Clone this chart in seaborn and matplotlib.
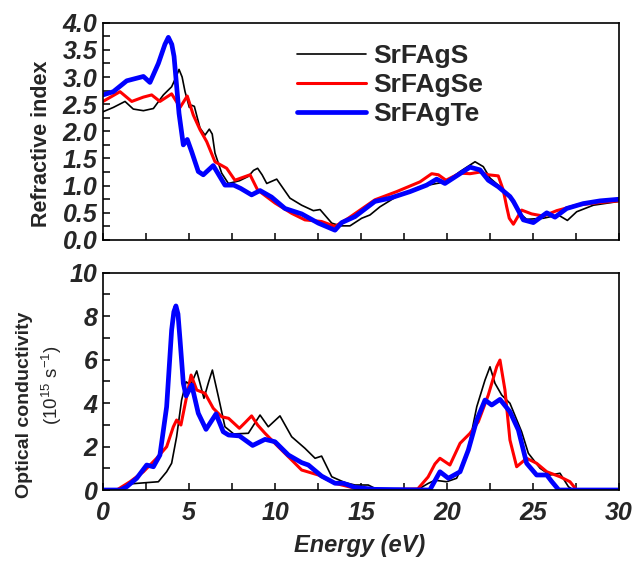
import numpy as np
import pandas as pd
import matplotlib
matplotlib.use("Agg")
import matplotlib.pyplot as plt
from matplotlib.ticker import MultipleLocator
import seaborn as sns

sns.set_theme(style="ticks")
plt.rcParams['font.family'] = ['Liberation Sans', 'DejaVu Sans']
plt.rcParams['mathtext.fontset'] = 'custom'
plt.rcParams['mathtext.rm'] = 'Liberation Sans'
plt.rcParams['mathtext.it'] = 'Liberation Sans:italic'
plt.rcParams['mathtext.bf'] = 'Liberation Sans:bold'
plt.rcParams['lines.solid_joinstyle'] = 'round'
plt.rcParams['lines.solid_capstyle'] = 'round'

labels = ["SrFAgS", "SrFAgSe", "SrFAgTe"]
colors = ["#000000", "#ff0000", "#0000ff"]
widths = [1.2, 2.2, 3.4]

# ---- Refractive index (top) ----
top_S_E = [0, 0.6, 1.28, 1.76, 2.35, 2.93, 3.51, 3.99, 4.25, 4.42, 4.6, 4.77, 5.02, 5.15, 5.31, 5.64, 5.93, 6.18, 6.35, 6.51, 6.9, 7.29, 7.93, 8.45, 8.75, 8.99, 9.25, 9.52, 10.1, 10.87, 11.55, 12.23, 12.62, 13.3, 13.8, 14.36, 15.04, 15.52, 16.1, 17.07, 18.43, 19.4, 19.94, 20.76, 21.63, 22.11, 22.5, 23.08, 23.66, 24.24, 24.63, 25.6, 26.47, 27.0, 27.54, 28.51, 30]
top_S_n = [2.36, 2.44, 2.55, 2.41, 2.38, 2.42, 2.67, 2.82, 3.0, 3.14, 3.0, 2.73, 2.44, 2.48, 2.46, 2.06, 1.93, 2.04, 1.95, 1.60, 1.23, 1.04, 1.09, 1.17, 1.28, 1.32, 1.2, 1.04, 1.12, 0.77, 0.64, 0.54, 0.56, 0.31, 0.26, 0.26, 0.40, 0.46, 0.61, 0.80, 0.98, 1.04, 1.07, 1.26, 1.44, 1.35, 1.14, 0.98, 0.77, 0.49, 0.38, 0.40, 0.46, 0.36, 0.52, 0.64, 0.71]

top_Se_E = [0, 0.99, 1.67, 2.35, 2.83, 3.31, 3.99, 4.48, 4.9, 5.25, 5.64, 6.03, 6.51, 7.19, 7.67, 8.55, 8.99, 10.0, 10.97, 11.74, 12.71, 13.49, 14.26, 15.81, 17.07, 18.43, 19.11, 19.5, 19.94, 20.76, 21.34, 21.92, 22.4, 22.98, 23.27, 23.47, 23.62, 23.86, 24.34, 24.92, 25.6, 26.38, 27.54, 28.9, 30]
top_Se_n = [2.55, 2.73, 2.55, 2.63, 2.67, 2.55, 2.69, 2.44, 2.65, 2.30, 2.03, 1.81, 1.44, 1.32, 1.10, 1.20, 0.92, 0.68, 0.49, 0.37, 0.34, 0.25, 0.40, 0.74, 0.89, 1.07, 1.22, 1.20, 1.10, 1.23, 1.22, 1.25, 1.20, 1.18, 0.92, 0.61, 0.40, 0.29, 0.55, 0.48, 0.44, 0.54, 0.64, 0.69, 0.72]

top_Te_E = [0, 0.6, 1.38, 2.35, 2.73, 3.22, 3.6, 3.8, 4.0, 4.13, 4.42, 4.67, 4.9, 5.15, 5.54, 5.83, 6.41, 7.09, 7.6, 8.0, 8.64, 9.13, 9.8, 10.58, 11.55, 12.52, 13.49, 13.88, 14.65, 15.81, 16.69, 17.85, 18.82, 19.4, 19.88, 20.56, 21.34, 21.92, 22.4, 22.98, 23.66, 23.86, 24.44, 25.02, 25.8, 26.28, 26.96, 27.92, 28.9, 30]
top_Te_n = [2.67, 2.73, 2.93, 3.01, 2.90, 3.25, 3.6, 3.73, 3.6, 3.38, 2.33, 1.75, 1.85, 1.63, 1.26, 1.20, 1.37, 1.01, 1.01, 0.95, 0.83, 0.91, 0.79, 0.58, 0.48, 0.31, 0.18, 0.32, 0.43, 0.71, 0.77, 0.89, 1.01, 1.12, 1.04, 1.18, 1.34, 1.29, 1.10, 0.98, 0.80, 0.71, 0.37, 0.32, 0.50, 0.42, 0.58, 0.67, 0.72, 0.75]

# ---- Optical conductivity (bottom) ----
bot_S_E = [0, 0.9, 1.0, 1.57, 2.54, 3.22, 3.7, 3.99, 4.28, 4.57, 4.83, 5.1, 5.45, 5.87, 6.15, 6.36, 6.71, 7.09, 7.6, 8.45, 9.13, 9.61, 10.29, 10.97, 11.74, 12.33, 12.71, 13.3, 14.07, 14.65, 15.42, 15.8, 16.5, 18.3, 18.9, 19.3, 19.98, 20.56, 21.14, 21.73, 22.21, 22.5, 22.79, 23.18, 23.66, 24.34, 24.73, 25.41, 25.99, 26.57, 27.06, 27.35, 30]
bot_S_s = [0, 0, 0.05, 0.28, 0.34, 0.38, 0.84, 1.23, 2.45, 4.14, 4.98, 4.83, 5.48, 4.22, 5.0, 5.52, 4.29, 2.91, 2.58, 2.61, 3.45, 2.91, 3.41, 2.45, 1.92, 1.46, 1.56, 0.61, 0.34, 0.23, 0.23, 0.08, 0, 0.02, 0.3, 0.45, 0.38, 0.54, 1.53, 3.83, 5.06, 5.67, 4.91, 4.37, 3.99, 2.68, 1.69, 1.0, 0.69, 0.77, 0.15, 0, 0]

bot_Se_E = [0, 0.8, 1.57, 2.35, 3.12, 3.7, 4.09, 4.28, 4.53, 4.86, 5.12, 5.45, 5.93, 6.41, 6.9, 7.3, 7.93, 8.26, 8.64, 8.99, 9.42, 10.19, 10.97, 11.55, 12.52, 13.49, 14.65, 15.8, 18.3, 18.9, 19.3, 19.59, 20.17, 20.76, 21.34, 21.82, 22.4, 22.89, 23.08, 23.37, 23.66, 24.05, 24.63, 25.21, 25.8, 26.57, 27.15, 27.54, 30]
bot_Se_s = [0, 0, 0.38, 0.84, 1.46, 1.99, 2.91, 3.22, 2.99, 4.29, 5.29, 4.60, 4.45, 3.76, 3.37, 3.3, 2.84, 3.10, 3.41, 2.99, 2.61, 1.99, 1.38, 0.92, 0.69, 0.31, 0.08, 0, 0.05, 0.6, 1.2, 1.46, 1.15, 2.15, 2.61, 3.14, 4.37, 5.67, 5.98, 4.6, 2.30, 1.07, 1.46, 1.23, 0.84, 0.61, 0.38, 0, 0]

bot_Te_E = [0, 1.0, 1.38, 1.96, 2.54, 2.93, 3.31, 3.7, 3.99, 4.12, 4.24, 4.36, 4.48, 4.67, 4.83, 5.16, 5.54, 5.99, 6.57, 6.99, 7.3, 7.93, 8.7, 9.42, 10.0, 10.78, 11.55, 11.94, 12.71, 13.49, 13.98, 14.65, 15.8, 19.0, 19.59, 20.08, 20.76, 21.24, 21.73, 22.21, 22.6, 23.08, 23.66, 24.15, 24.63, 25.21, 25.8, 26.08, 26.5, 30]
bot_Te_s = [0, 0, 0.15, 0.54, 1.15, 1.07, 1.61, 3.83, 7.36, 8.2, 8.47, 8.1, 6.90, 4.91, 4.33, 4.83, 3.53, 2.79, 3.50, 2.68, 2.53, 2.49, 2.05, 2.33, 2.22, 1.61, 1.26, 1.15, 0.64, 0.31, 0.31, 0.12, 0.03, 0, 0.84, 0.54, 0.84, 1.84, 3.22, 4.14, 3.91, 4.17, 3.60, 2.76, 1.23, 0.69, 0.69, 0.4, 0, 0]

top_series = [(top_S_E, top_S_n), (top_Se_E, top_Se_n), (top_Te_E, top_Te_n)]
bot_series = [(bot_S_E, bot_S_s), (bot_Se_E, bot_Se_s), (bot_Te_E, bot_Te_s)]

fig = plt.figure(figsize=(6.35, 5.64), dpi=100)
ax1 = fig.add_axes([0.1622, 0.5745, 0.8126, 0.3853])
ax2 = fig.add_axes([0.1622, 0.1312, 0.8126, 0.3853])

tickfont = dict(family=['Liberation Sans', 'DejaVu Sans'], weight='bold', style='italic', size=18)

for ax, series in ((ax1, top_series), (ax2, bot_series)):
    for (E, v), lab, c, w in zip(series, labels, colors, widths):
        df = pd.DataFrame({"E": E, "v": v})
        sns.lineplot(data=df, x="E", y="v", ax=ax, color=c, linewidth=w,
                     label=lab, sort=False, estimator=None)
    ax.set_xlim(0, 30)
    ax.xaxis.set_major_locator(MultipleLocator(5))
    ax.xaxis.set_minor_locator(MultipleLocator(2.5))
    ax.tick_params(which='both', direction='in', top=False, right=False, width=1.1, color='black')
    ax.tick_params(which='major', length=5)
    ax.tick_params(which='minor', length=5)
    ax.tick_params(axis='y', pad=4)
    for s in ax.spines.values():
        s.set_linewidth(1.2)
        s.set_color('black')
    ax.set_xlabel("")
    ax.set_ylabel("")

ax1.set_ylim(0, 4)
ax1.yaxis.set_minor_locator(MultipleLocator(0.25))
ax1.set_yticks(np.arange(0, 4.01, 0.5))
ax1.set_yticklabels([f"{t:.1f}" for t in np.arange(0, 4.01, 0.5)], fontdict=tickfont)
ax1.tick_params(axis='x', labelbottom=False)

ax2.set_ylim(0, 10)
ax2.yaxis.set_minor_locator(MultipleLocator(1))
ax2.set_yticks(np.arange(0, 10.1, 2))
ax2.set_yticklabels([f"{int(t)}" for t in np.arange(0, 10.1, 2)], fontdict=tickfont)
ax2.set_xticks(np.arange(0, 30.1, 5))
ax2.set_xticklabels([f"{int(t)}" for t in np.arange(0, 30.1, 5)], fontdict=tickfont)
ax2.tick_params(axis='x', pad=8)

ax2.get_legend().remove()
fig.text(0.066, 0.745, "Refractive index", rotation=90, fontsize=15.5, fontweight='bold',
         ha='center', va='center')
fig.text(0.038, 0.282, "Optical conductivity", rotation=90, fontsize=14, fontweight='bold',
         ha='center', va='center')
fig.text(0.082, 0.317, r"(10$^{15}$ s$^{-1}$)", rotation=90, fontsize=13.5,
         ha='center', va='center')
fig.text(0.567, 0.033, "Energy (eV)", fontsize=17, fontweight='bold', style='italic',
         ha='center', va='center')

leg = ax1.legend(loc='upper left', bbox_to_anchor=(0.33, 1.01), frameon=False,
                 handlelength=2.6, handletextpad=0.3, labelspacing=0.18,
                 prop=dict(family=['Liberation Sans', 'DejaVu Sans'], weight='bold', size=19))

fig.savefig("out.png", dpi=100)
